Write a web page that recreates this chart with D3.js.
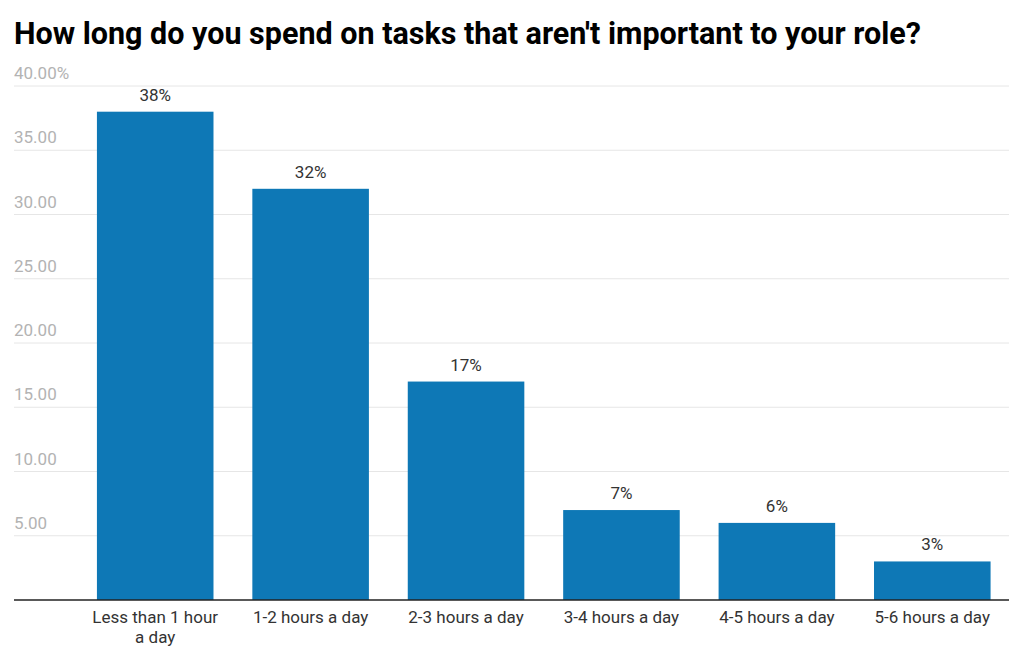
<!DOCTYPE html>
<html><head><meta charset="utf-8">
<script src="https://cdn.jsdelivr.net/npm/d3@7"></script>
<style>body{margin:0;background:#fff;font-family:Roboto,sans-serif}</style>
</head><body>
<svg id="c" width="1024" height="666"></svg>
<script>
const categories = ["Less than 1 hour a day","1-2 hours a day","2-3 hours a day","3-4 hours a day","4-5 hours a day","5-6 hours a day"];
const values = [38, 32, 17, 7, 6, 3];
const valueLabels = ["38%","32%","17%","7%","6%","3%"];
const yTicks = [5,10,15,20,25,30,35,40];
const yTickLabels = ["5.00","10.00","15.00","20.00","25.00","30.00","35.00","40.00%"];

const svg = d3.select("#c");
const mLeft = 14, mRight = 1009, mTop = 86, mBottom = 600;
const y = d3.scaleLinear().domain([0,40]).range([mBottom, mTop]);
const x = d3.scaleBand().domain(categories).range([77.5, 1010]).paddingInner(0.25).paddingOuter(0.125);

svg.append("text").attr("x",14).attr("y",44).attr("font-size",30.5).attr("font-weight",700).attr("fill","#000")
  .text("How long do you spend on tasks that aren't important to your role?");

const g = svg.append("g");
yTicks.forEach((t,i)=>{
  g.append("line").attr("x1",mLeft).attr("x2",mRight).attr("y1",y(t)).attr("y2",y(t)).attr("stroke","#e6e6e6").attr("stroke-width",1);
  g.append("text").attr("x",mLeft).attr("y",y(t)-7).attr("font-size",17).attr("fill","#b3b3b3").text(yTickLabels[i]);
});

svg.selectAll("rect.bar").data(values).enter().append("rect").attr("class","bar")
  .attr("x",(d,i)=>x(categories[i])).attr("width",x.bandwidth())
  .attr("y",d=>y(d)).attr("height",d=>mBottom-y(d)).attr("fill","#0e78b6");

svg.selectAll("text.val").data(values).enter().append("text").attr("class","val")
  .attr("x",(d,i)=>x(categories[i])+x.bandwidth()/2).attr("y",d=>y(d)-11)
  .attr("text-anchor","middle").attr("font-size",17).attr("fill","#333").text((d,i)=>valueLabels[i]);

svg.append("line").attr("x1",mLeft).attr("x2",mRight).attr("y1",mBottom).attr("y2",mBottom).attr("stroke","#222").attr("stroke-width",1.5);

const lines = [["Less than 1 hour","a day"],["1-2 hours a day"],["2-3 hours a day"],["3-4 hours a day"],["4-5 hours a day"],["5-6 hours a day"]];
categories.forEach((c,i)=>{
  const t = svg.append("text").attr("text-anchor","middle").attr("font-size",17).attr("fill","#333");
  lines[i].forEach((l,j)=>{
    t.append("tspan").attr("x",x(c)+x.bandwidth()/2).attr("y",623+j*20).text(l);
  });
});
</script>
</body></html>
